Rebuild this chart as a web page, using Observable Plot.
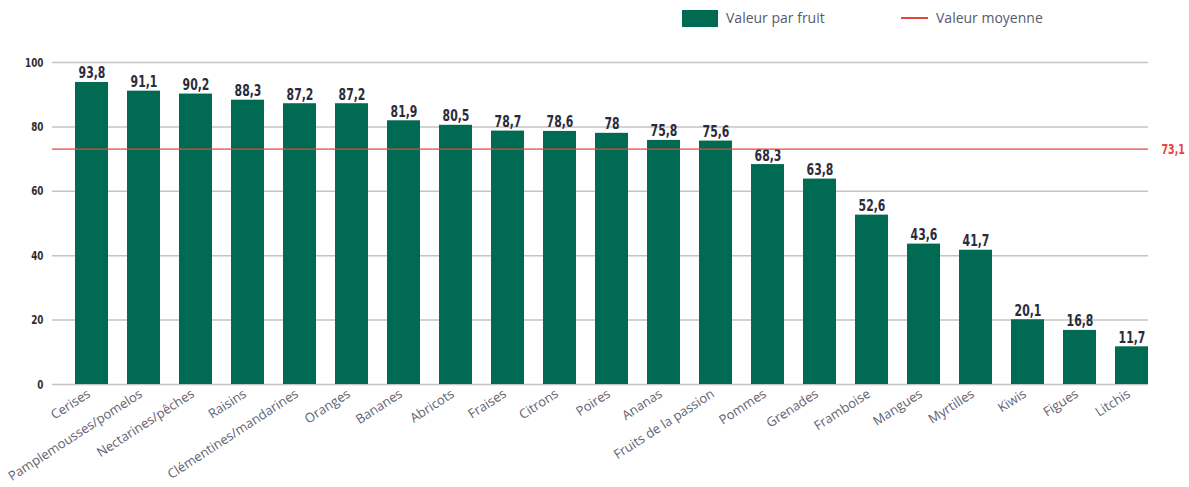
<!DOCTYPE html>
<html><head><meta charset="utf-8">
<script src="https://cdn.jsdelivr.net/npm/d3@7"></script>
<script src="https://cdn.jsdelivr.net/npm/@observablehq/plot@0.6"></script>
<style>
body{margin:0;background:#fff;}
#legend{position:relative;width:1189px;height:36px;font-family:"Open Sans",sans-serif;font-size:14px;color:#565b6d;}
#legend .sw{position:absolute;left:682px;top:10px;width:36px;height:17px;background:#006b52;}
#legend .t1{position:absolute;left:726px;top:8px;}
#legend .ln{position:absolute;left:901px;top:17px;width:27px;height:2px;background:#e8433f;}
#legend .t2{position:absolute;left:936px;top:8px;}
</style></head><body>
<div id="legend"><div class="sw"></div><div class="t1">Valeur par fruit</div><div class="ln"></div><div class="t2">Valeur moyenne</div></div>
<div id="chart"></div>
<script>
const fruits = ["Cerises","Pamplemousses/pomelos","Nectarines/pêches","Raisins","Clémentines/mandarines","Oranges","Bananes","Abricots","Fraises","Citrons","Poires","Ananas","Fruits de la passion","Pommes","Grenades","Framboise","Mangues","Myrtilles","Kiwis","Figues","Litchis"];
const values = [93.8,91.1,90.2,88.3,87.2,87.2,81.9,80.5,78.7,78.6,78,75.8,75.6,68.3,63.8,52.6,43.6,41.7,20.1,16.8,11.7];
const yTicks = [0,20,40,60,80,100];
const average = 73.1;

const data = fruits.map((f,i)=>({fruit:f, value:values[i]}));
const fmt = v => String(v).replace(".", ",");
const bold = "'DejaVu Sans', sans-serif";

const chart = Plot.plot({
  width:1189, height:451,
  marginLeft:52, marginRight:41, marginTop:26, marginBottom:103,
  style:{background:"#fff"},
  x:{domain:fruits, range:[74,1148], paddingInner:0.37, paddingOuter:0, axis:null},
  y:{domain:[0,100], axis:null},
  marks:[
    Plot.ruleY(yTicks, {stroke:"#c4c4c4", strokeWidth:1.5}),
    Plot.axisY({ticks:yTicks, tickSize:0, tickPadding:9, fontFamily:bold, fontWeight:"bold", fontSize:13, fill:"#2e2e2e", label:null, className:"narrow"}),
    Plot.barY(data, {x:"fruit", y:"value", fill:"#006b52"}),
    Plot.text(data, {x:"fruit", y:"value", text:d=>fmt(d.value), lineAnchor:"bottom", dy:-4, fontFamily:bold, fontWeight:"bold", fontSize:16, fill:"#2a2c3c", className:"narrow"}),
    Plot.ruleY([average], {stroke:"#e8433f", strokeWidth:1.2}),
    Plot.text([average], {y:d=>d, frameAnchor:"right", dx:13, textAnchor:"start", text:d=>fmt(d), fontFamily:bold, fontWeight:"bold", fontSize:14, fill:"#e8433f", className:"narrow"}),
    Plot.axisX({tickSize:0, tickPadding:8, dx:-3, tickRotate:-33, fontFamily:"'Open Sans', sans-serif", fontSize:13, fill:"#5f6372", label:null})
  ]
});
document.getElementById("chart").appendChild(chart);
// condense the bold numeric labels horizontally (no condensed font installed)
d3.select(chart).selectAll("g.narrow text").each(function(){
  const t = this.getAttribute("transform") || "";
  this.setAttribute("transform", t + " scale(0.68,1)");
  const x = this.getAttribute("x");
  if (x) this.setAttribute("x", +x / 0.68);
});
</script>
</body></html>
